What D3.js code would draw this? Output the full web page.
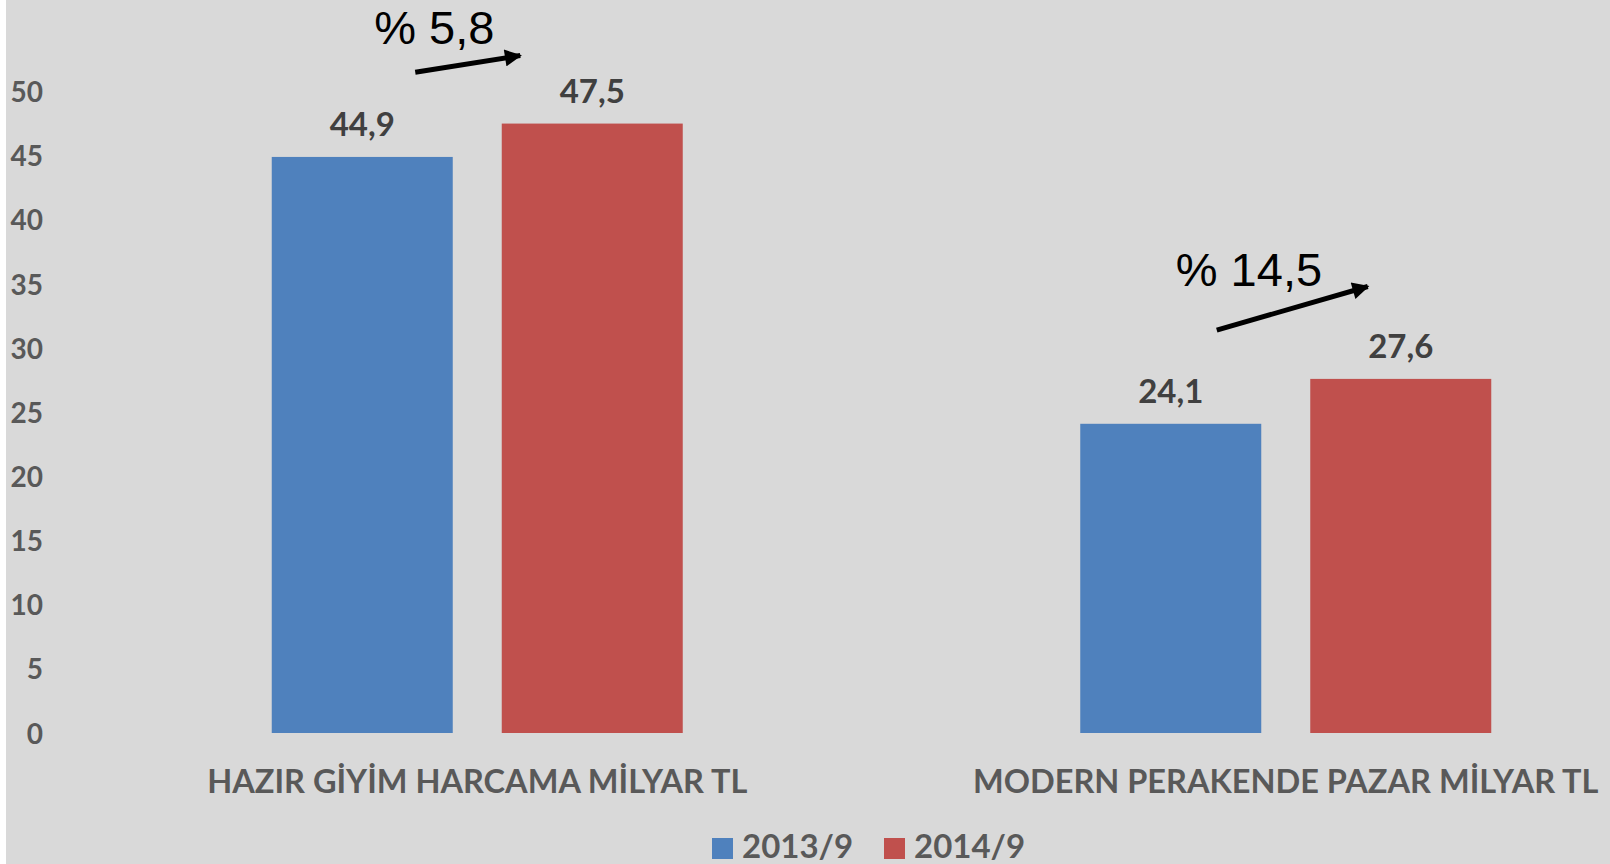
<!DOCTYPE html>
<html lang="tr">
<head>
  <meta charset="utf-8">
  <title>hazir giyim</title>
  <style>
  * { margin:0; padding:0; }
  body { background:#fff; overflow:hidden; }
  svg { display:block; }
  .tick text { font-family: Lato, "Open Sans", sans-serif; font-weight:bold; fill:#595959; }
  </style>
  <script src="https://d3js.org/d3.v7.min.js"></script>
</head>
<body>
  <div id="chart"></div>
  <script>
  // data
  var categories = ["HAZIR GİYİM HARCAMA MİLYAR TL", "MODERN PERAKENDE PAZAR MİLYAR TL"];
  var series = ["2013/9", "2014/9"];
  var values2013 = [44.9, 24.1];
  var values2014 = [47.5, 27.6];
  var valueLabels2013 = ["44,9", "24,1"];
  var valueLabels2014 = ["47,5", "27,6"];
  var colors = ["#4f81bd", "#c0504d"];
  var yTicks = [0, 5, 10, 15, 20, 25, 30, 35, 40, 45, 50];
  var growthLabels = ["% 5,8", "% 14,5"];
  // arrow start/end in value units
  var arrowFrom = [51.5, 31.4];
  var arrowTo = [52.8, 34.8];

  var w = 1610, h = 864;
  var svg = d3.select("#chart").append("svg")
    .attr("width", w)
    .attr("height", h);

  // grey plot background, thin white strip on the left
  svg.append("rect")
    .attr("x", 6).attr("y", 0)
    .attr("width", w - 6).attr("height", h)
    .style("fill", "#d9d9d9");

  var x0 = d3.scaleBand().domain(categories).range([73, 1690]);
  var bw = x0.bandwidth();
  var x1 = d3.scaleBand().domain(series)
    .range([bw/2 - 205.5, bw/2 + 205.5])
    .paddingInner(49/230);
  var y = d3.scaleLinear().domain([0, 50]).range([733, 91.5]);

  var rows = categories.map(function(c, i){
    return {cat: c, vals: [
      {s: series[0], v: values2013[i], lab: valueLabels2013[i], c: colors[0]},
      {s: series[1], v: values2014[i], lab: valueLabels2014[i], c: colors[1]}
    ]};
  });

  // y axis
  var yAxis = d3.axisLeft(y).tickValues(yTicks).tickSize(0).tickPadding(7);
  var gy = svg.append("g").attr("transform", "translate(50,0)").call(yAxis);
  gy.select(".domain").remove();
  gy.selectAll(".tick text").style("font-size", "28px").attr("dy", "0.36em");

  var groups = svg.selectAll(".grp")
    .data(rows)
    .enter()
    .append("g")
    .attr("class", "grp")
    .attr("transform", function(d){ return "translate(" + x0(d.cat) + ",0)"; });

  groups.selectAll("rect")
    .data(function(d){ return d.vals; })
    .enter()
    .append("rect")
    .attr("x", function(d){ return x1(d.s); })
    .attr("y", function(d){ return y(d.v); })
    .attr("width", x1.bandwidth())
    .attr("height", function(d){ return y(0) - y(d.v); })
    .style("fill", function(d){ return d.c; });

  groups.selectAll(".val")
    .data(function(d){ return d.vals; })
    .enter()
    .append("text")
    .attr("class", "val")
    .attr("x", function(d){ return x1(d.s) + x1.bandwidth()/2; })
    .attr("y", function(d){ return y(d.v) - 21; })
    .attr("text-anchor", "middle")
    .style("font-family", "Lato, sans-serif")
    .style("font-weight", "bold")
    .style("font-size", "33px")
    .style("fill", "#404040")
    .text(function(d){ return d.lab; });

  // category labels
  svg.selectAll(".cat")
    .data(categories)
    .enter()
    .append("text")
    .attr("class", "cat")
    .attr("x", function(d){ return x0(d) + bw/2; })
    .attr("y", 793)
    .attr("text-anchor", "middle")
    .style("font-family", "Lato, sans-serif")
    .style("font-weight", "bold")
    .style("font-size", "32.5px")
    .style("fill", "#595959")
    .text(function(d){ return d; });

  // growth arrows
  svg.append("defs").append("marker")
    .attr("id", "head")
    .attr("viewBox", "0 0 10 10")
    .attr("refX", 9).attr("refY", 5)
    .attr("markerWidth", 3.6).attr("markerHeight", 3.4)
    .attr("markerUnits", "strokeWidth")
    .attr("orient", "auto")
    .append("path")
    .attr("d", "M0,0 L10,5 L0,10 Z")
    .style("fill", "#000");

  var arrowDx = [[-62, 43], [-69, 82]];
  var ann = svg.selectAll(".ann")
    .data(categories)
    .enter()
    .append("g")
    .attr("class", "ann");
  ann.append("line")
    .attr("x1", function(d, i){ return x0(d) + bw/2 + arrowDx[i][0]; })
    .attr("y1", function(d, i){ return y(arrowFrom[i]); })
    .attr("x2", function(d, i){ return x0(d) + bw/2 + arrowDx[i][1]; })
    .attr("y2", function(d, i){ return y(arrowTo[i]); })
    .style("stroke", "#000")
    .style("stroke-width", 5)
    .attr("marker-end", "url(#head)");
  ann.append("text")
    .attr("x", function(d, i){ return x0(d) + bw/2 + (i == 0 ? -103 : -110); })
    .attr("y", function(d, i){ return y(arrowTo[i]) - (i == 0 ? 12 : 1); })
    .style("font-family", "'Liberation Sans', Arial, sans-serif")
    .style("font-size", "47px")
    .style("fill", "#000")
    .text(function(d, i){ return growthLabels[i]; });

  // legend
  var leg = svg.selectAll(".leg")
    .data(series)
    .enter()
    .append("g")
    .attr("class", "leg")
    .attr("transform", function(d, i){ return "translate(" + (712 + i*172) + ",838)"; });
  leg.append("rect")
    .attr("width", 21).attr("height", 21)
    .style("fill", function(d, i){ return colors[i]; });
  leg.append("text")
    .attr("x", 30).attr("y", 20)
    .style("font-family", "Lato, sans-serif")
    .style("font-weight", "bold")
    .style("font-size", "33px")
    .style("fill", "#595959")
    .text(function(d){ return d; });
  </script>
</body>
</html>
